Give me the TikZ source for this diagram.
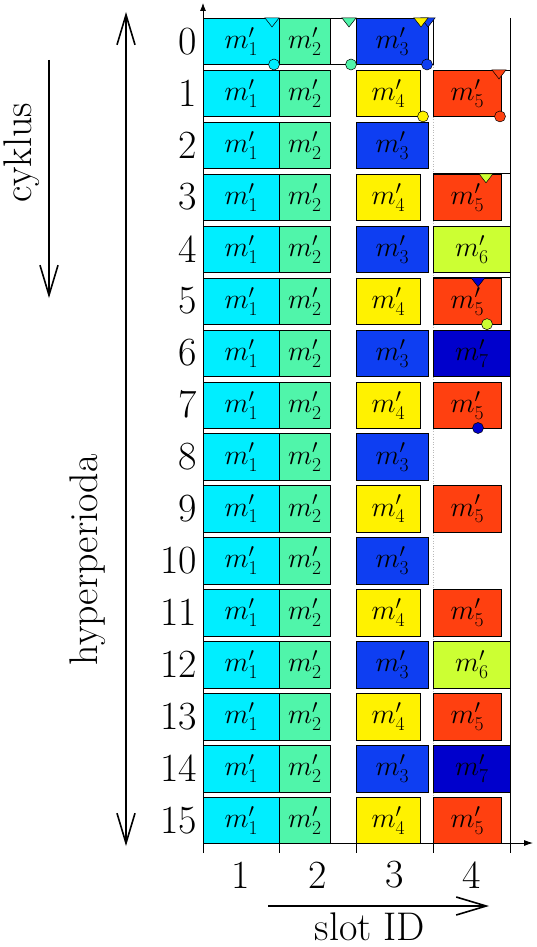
\documentclass[tikz,border=0pt]{standalone}
\usepackage{fix-cm}
\usetikzlibrary{arrows.meta}
\definecolor{c1}{RGB}{0,238,255}
\definecolor{c2}{RGB}{80,245,170}
\definecolor{c3}{RGB}{14,62,242}
\definecolor{c4}{RGB}{255,242,0}
\definecolor{c5}{RGB}{255,64,16}
\definecolor{c6}{RGB}{204,255,51}
\definecolor{c7}{RGB}{0,0,204}
\begin{document}
\begin{tikzpicture}[x=1pt,y=-1pt,
  msg/.style={draw=black,line width=0.7pt,inner sep=0pt,anchor=north west,minimum height=46.5pt,font=\fontsize{28}{28}\selectfont},
  lab/.style={font=\fontsize{40}{42}\selectfont,inner sep=0pt},
  mk/.style={draw=black,line width=0.5pt},
  frame/.style={draw=black,line width=0.7pt},
  axis/.style={line width=0.8pt},
  bigarrow/.style={line width=1.6pt,-{Straight Barb[length=30pt,width=18pt,line width=1.6pt]}},
  bigarrows/.style={line width=1.6pt,{Straight Barb[length=30pt,width=18pt,line width=1.6pt]}-{Straight Barb[length=30pt,width=18pt,line width=1.6pt]}}]
\useasboundingbox (0,0) rectangle (536,947);
% faint slot grid
\draw[gray!55,dotted,line width=0.6pt] (433,18) -- (433,843);
% frame of cycle 0
\draw[frame] (203,18) rectangle (433,64.5);
\foreach \yy in {69.93,173.79,277.65}{
  \draw[frame] (433,\yy) -- (510,\yy);
}
% rows
\foreach \r in {0,...,15}{
  \pgfmathsetmacro{\yt}{18+51.93*\r}
  \pgfmathsetmacro{\yc}{\yt+23.25}
  \node[msg,fill=c1,minimum width=76pt] (a\r) at (203,\yt) {$m'_1$};
  \node[msg,fill=c2,minimum width=51pt] (b\r) at (279,\yt) {$m'_2$};
  \node[lab,anchor=east] (n\r) at (197,\yc) {\r};
  \ifodd\r\relax
    \node[msg,fill=c4,minimum width=64pt] (c\r) at (356,\yt) {$m'_4$};
    \node[msg,fill=c5,minimum width=68pt] (d\r) at (433,\yt) {$m'_5$};
  \else
    \node[msg,fill=c3,minimum width=72pt] (c\r) at (356,\yt) {$m'_3$};
  \fi
}
\foreach \r in {4,12}{
  \pgfmathsetmacro{\yt}{18+51.93*\r}
  \node[msg,fill=c6,minimum width=77pt] (d\r) at (433,\yt) {$m'_6$};
}
\foreach \r in {6,14}{
  \pgfmathsetmacro{\yt}{18+51.93*\r}
  \node[msg,fill=c7,minimum width=77pt] (d\r) at (433,\yt) {$m'_7$};
}
% release triangles
\foreach \x/\y/\c in {272/18/c1,349/18/c2,428/18/c3,421/18/c4,499/69.93/c5,486/173.79/c6,478/277.65/c7}{
  \draw[mk,fill=\c] (\x-7,\y) -- (\x+7,\y) -- (\x,\y+9) -- cycle;
}
% deadline circles
\foreach \x/\y/\c in {274/64.5/c1,351/64.5/c2,427/64.5/c3,423/116.43/c4,500/116.43/c5,487/324.15/c6,478/428/c7}{
  \draw[mk,fill=\c] (\x,\y) circle (5.5pt);
}
% axes
\coordinate (o) at (203,853);
\coordinate (ytop) at (203,3);
\coordinate (xo) at (203,843);
\coordinate (xend) at (533,843);
\coordinate (rt) at (510,18);
\coordinate (rb) at (510,853);
\draw[axis,-{Latex[length=8pt,width=6pt]}] (o) -- (ytop);
\draw[axis,-{Latex[length=9pt,width=6pt]}] (xo) -- (xend);
\draw[axis] (rt) -- (rb);
\foreach \x in {279,356,433}{
  \draw[axis] (\x,843) -- (\x,853);
}
% slot labels
\node[lab] (s1) at (241,875) {1};
\node[lab] (s2) at (318,875) {2};
\node[lab] (s3) at (395,875) {3};
\node[lab] (s4) at (472,875) {4};
\coordinate (sa) at (268,906);
\coordinate (sb) at (489,906);
\draw[bigarrow] (sa) -- (sb);
\node[lab] (slot) at (370,927) {slot ID};
% left arrows
\coordinate (ca) at (49,60);
\coordinate (cb) at (49,298);
\draw[bigarrow] (ca) -- (cb);
\node[lab,rotate=90] (cyk) at (22,153) {cyklus};
\coordinate (ha) at (126,12);
\coordinate (hb) at (126,846);
\draw[bigarrows] (ha) -- (hb);
\node[lab,rotate=90] (hyp) at (88,560) {hyperperioda};
\end{tikzpicture}
\end{document}
